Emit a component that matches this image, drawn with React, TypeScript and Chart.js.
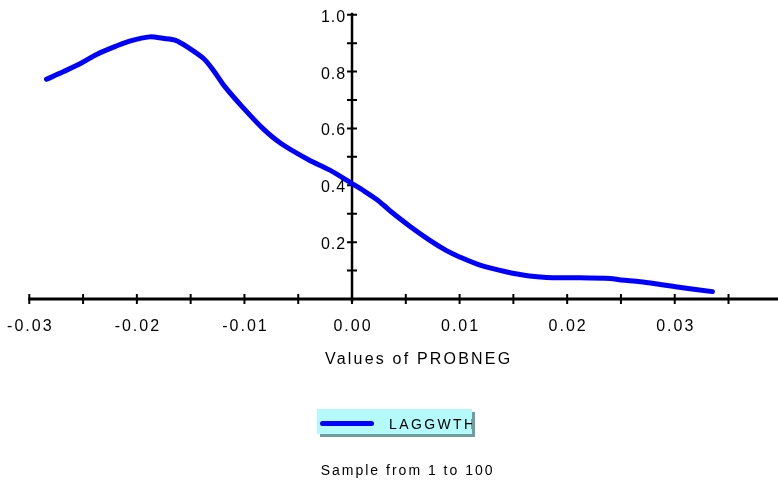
import React, { useEffect, useRef } from 'react';
import { Chart, registerables } from 'chart.js';

Chart.register(...registerables);

// ---- data ----
const xValues = [
  -0.0284, -0.0268, -0.0252, -0.0237, -0.0219, -0.0206, -0.0188, -0.0176, -0.0164, -0.0152,
  -0.0138, -0.0129, -0.0118, -0.0102, -0.0083, -0.0066, -0.0040, -0.0021, 0.0000, 0.0012,
  0.0023, 0.0030, 0.0037, 0.0054, 0.0072, 0.0087, 0.0100, 0.0119, 0.0143, 0.0165,
  0.0187, 0.0212, 0.0240, 0.0250, 0.0268, 0.0285, 0.0304, 0.0335,
];
const laggwth = [
  0.773, 0.800, 0.829, 0.861, 0.890, 0.908, 0.922, 0.917, 0.910, 0.884,
  0.846, 0.805, 0.746, 0.676, 0.600, 0.547, 0.489, 0.454, 0.406, 0.378,
  0.350, 0.328, 0.305, 0.255, 0.207, 0.172, 0.148, 0.119, 0.096, 0.081,
  0.075, 0.075, 0.072, 0.067, 0.061, 0.052, 0.041, 0.026,
];

const xTickValues = [-0.03, -0.025, -0.02, -0.015, -0.01, -0.005, 0, 0.005, 0.01, 0.015, 0.02, 0.025, 0.03, 0.035];
const xLabelValues = [-0.03, -0.02, -0.01, 0, 0.01, 0.02, 0.03];
const xLabels = ['-0.03', '-0.02', '-0.01', '0.00', '0.01', '0.02', '0.03'];
const yTickValues = [0.1, 0.2, 0.3, 0.4, 0.5, 0.6, 0.7, 0.8, 0.9, 1.0];
const yLabelValues = [0.2, 0.4, 0.6, 0.8, 1.0];
const yLabels = ['0.2', '0.4', '0.6', '0.8', '1.0'];

const seriesName = 'LAGGWTH';
const axisTitle = 'Values of PROBNEG';
const sampleText = 'Sample from 1 to 100';

const FONT = '"Liberation Sans", Arial, Helvetica, sans-serif';

const axesPlugin = {
  id: 'centerAxes',
  beforeDatasetsDraw(chart: any) {
    const { ctx } = chart;
    const xs = chart.scales.x;
    const ys = chart.scales.y;
    const x0 = xs.getPixelForValue(0);
    const y0 = ys.getPixelForValue(0);
    ctx.save();
    ctx.strokeStyle = '#000';
    ctx.lineCap = 'butt';
    // x axis line
    ctx.lineWidth = 3;
    ctx.beginPath();
    ctx.moveTo(xs.getPixelForValue(xTickValues[0]) - 1, y0);
    ctx.lineTo(chart.width, y0);
    ctx.stroke();
    // y axis line
    ctx.lineWidth = 2.5;
    ctx.beginPath();
    ctx.moveTo(x0, ys.getPixelForValue(1) - 2);
    ctx.lineTo(x0, y0 + 3);
    ctx.stroke();
    // ticks
    ctx.lineWidth = 2;
    ctx.beginPath();
    xTickValues.forEach((v) => {
      const px = xs.getPixelForValue(v);
      ctx.moveTo(px, y0 - 5);
      ctx.lineTo(px, y0 + 5);
    });
    yTickValues.forEach((v) => {
      const py = ys.getPixelForValue(v);
      ctx.moveTo(x0 - 5, py);
      ctx.lineTo(x0 + 5, py);
    });
    ctx.stroke();
    // labels
    ctx.fillStyle = '#000';
    ctx.font = '16px ' + FONT;
    ctx.textAlign = 'left';
    ctx.textBaseline = 'alphabetic';
    const lsX = 2;
    ctx.letterSpacing = lsX + 'px';
    xLabelValues.forEach((v, i) => {
      const px = xs.getPixelForValue(v);
      const w = ctx.measureText(xLabels[i]).width - lsX;
      ctx.fillText(xLabels[i], px - w / 2, y0 + 32);
    });
    const lsY = 1;
    ctx.letterSpacing = lsY + 'px';
    yLabelValues.forEach((v, i) => {
      const py = ys.getPixelForValue(v);
      const w = ctx.measureText(yLabels[i]).width - lsY;
      ctx.fillText(yLabels[i], x0 - 6.8 - w, py + 7);
    });
    ctx.restore();
  },
};

export default function App() {
  const ref = useRef<HTMLCanvasElement | null>(null);
  useEffect(() => {
    if (!ref.current) return;
    const chart = new Chart(ref.current, {
      type: 'line',
      data: {
        datasets: [
          {
            label: seriesName,
            data: xValues.map((x, i) => ({ x, y: laggwth[i] })),
            borderColor: '#0000ff',
            backgroundColor: '#0000ff',
            borderWidth: 5,
            pointRadius: 0,
            tension: 0.3,
            borderCapStyle: 'round',
            borderJoinStyle: 'round',
            fill: false,
            clip: false as any,
          },
        ],
      },
      options: {
        animation: false,
        responsive: false,
        devicePixelRatio: 1,
        layout: { padding: { left: 29.3, right: 0, top: 14.7, bottom: 183 } },
        scales: {
          x: { type: 'linear', min: -0.03, max: 0.0396, display: false },
          y: { type: 'linear', min: 0, max: 1, display: false },
        },
        plugins: {
          legend: { display: false },
          tooltip: { enabled: false },
          title: { display: false },
        },
      },
      plugins: [axesPlugin],
    });
    return () => chart.destroy();
  }, []);

  return (
    <div style={{ position: 'absolute', left: 0, top: 0, width: 778, height: 482, background: '#fff', fontFamily: FONT }}>
      <canvas ref={ref} width={778} height={482} style={{ display: 'block', position: 'absolute', left: 0, top: 0 }} />
      <div
        style={{
          position: 'absolute', left: 325, top: 350.5, fontSize: 16, lineHeight: '16px',
          letterSpacing: '2.2px', color: '#000', whiteSpace: 'nowrap',
        }}
      >
        {axisTitle}
      </div>
      <div
        style={{
          position: 'absolute', left: 317, top: 409, width: 155, height: 25,
          background: '#b4fafa', boxShadow: '3px 3px 0 #6e9e9e', overflow: 'hidden',
        }}
      >
        <div
          style={{
            position: 'absolute', left: 3, top: 11.5, width: 54, height: 5,
            background: '#0000ff', borderRadius: 2.5,
          }}
        />
        <div
          style={{
            position: 'absolute', left: 72, top: 7.5, fontSize: 14, lineHeight: '14px',
            letterSpacing: '2.4px', color: '#000', whiteSpace: 'nowrap',
          }}
        >
          {seriesName}
        </div>
      </div>
      <div
        style={{
          position: 'absolute', left: 320.7, top: 463, fontSize: 14, lineHeight: '14px',
          letterSpacing: '2px', color: '#000', whiteSpace: 'nowrap',
        }}
      >
        {sampleText}
      </div>
    </div>
  );
}
